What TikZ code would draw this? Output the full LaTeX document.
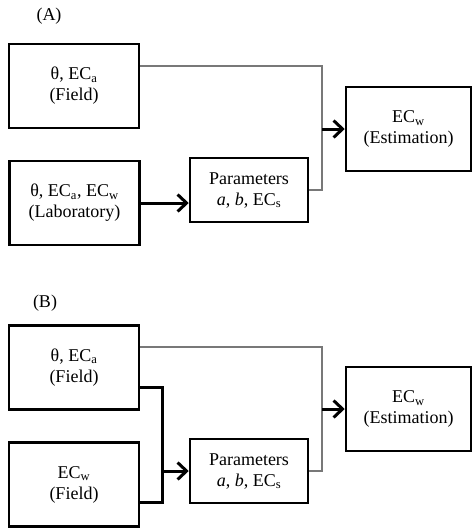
\documentclass[tikz,border=0pt]{standalone}
\usepackage{fontspec}
\setmainfont{Liberation Serif}
\usetikzlibrary{arrows.meta}
\definecolor{linkgray}{RGB}{120,120,120}

\begin{document}
\begin{tikzpicture}[
      x=1pt,y=-1pt,
      box/.style={draw,line width=2.5pt,align=center,inner sep=0pt,minimum width=130pt,minimum height=84pt,font=\fontsize{18}{21}\selectfont},
      parbox/.style={box,minimum width=118pt,minimum height=64pt},
      estbox/.style={box,minimum width=125pt},
      tag/.style={font=\fontsize{18}{21}\selectfont},
      link/.style={draw=linkgray,line width=1.3pt},
      feed/.style={line width=3pt},
      arrow/.style={-{Straight Barb[length=9pt,width=17pt]},line width=3pt}
    ]
      \useasboundingbox (0,0) rectangle (473,531);
      % (A)
      \node[tag] (tagA) at (49,16) {(A)};
      \node[box] (fieldA) at (74,86) {θ, EC\textsubscript{a}\\(Field)};
      \node[box] (labA) at (74.5,203) {θ, EC\textsubscript{a}, EC\textsubscript{w}\\(Laboratory)};
      \node[parbox] (paramA) at (249,190) {Parameters\\\textit{a}, \textit{b}, EC\textsubscript{s}};
      \node[estbox] (estA) at (408.5,129) {EC\textsubscript{w}\\(Estimation)};
      \coordinate (joinA) at (322,129);
      \draw[link] ([yshift=20pt]fieldA.east) -| (joinA) |- (paramA.east);
      \draw[arrow] (joinA) -- (estA.west);
      \draw[arrow] (labA.east) -- (labA.east -| paramA.west);
      % (B)
      \node[tag] (tagB) at (45,303) {(B)};
      \node[box] (fieldB) at (74,367.5) {θ, EC\textsubscript{a}\\(Field)};
      \node[box] (ecwB) at (74,484.5) {EC\textsubscript{w}\\(Field)};
      \node[parbox] (paramB) at (249,471) {Parameters\\\textit{a}, \textit{b}, EC\textsubscript{s}};
      \node[estbox] (estB) at (408.5,409) {EC\textsubscript{w}\\(Estimation)};
      \coordinate (joinB) at (322,409);
      \coordinate (mergeB) at (162,471);
      \draw[link] ([yshift=20.5pt]fieldB.east) -| (joinB) |- (paramB.east);
      \draw[arrow] (joinB) -- (estB.west);
      \draw[feed] ([yshift=-19.5pt]fieldB.east) -| (mergeB) |- ([yshift=-17.5pt]ecwB.east);
      \draw[arrow] (mergeB) -- (paramB.west);
    \end{tikzpicture}
\end{document}
